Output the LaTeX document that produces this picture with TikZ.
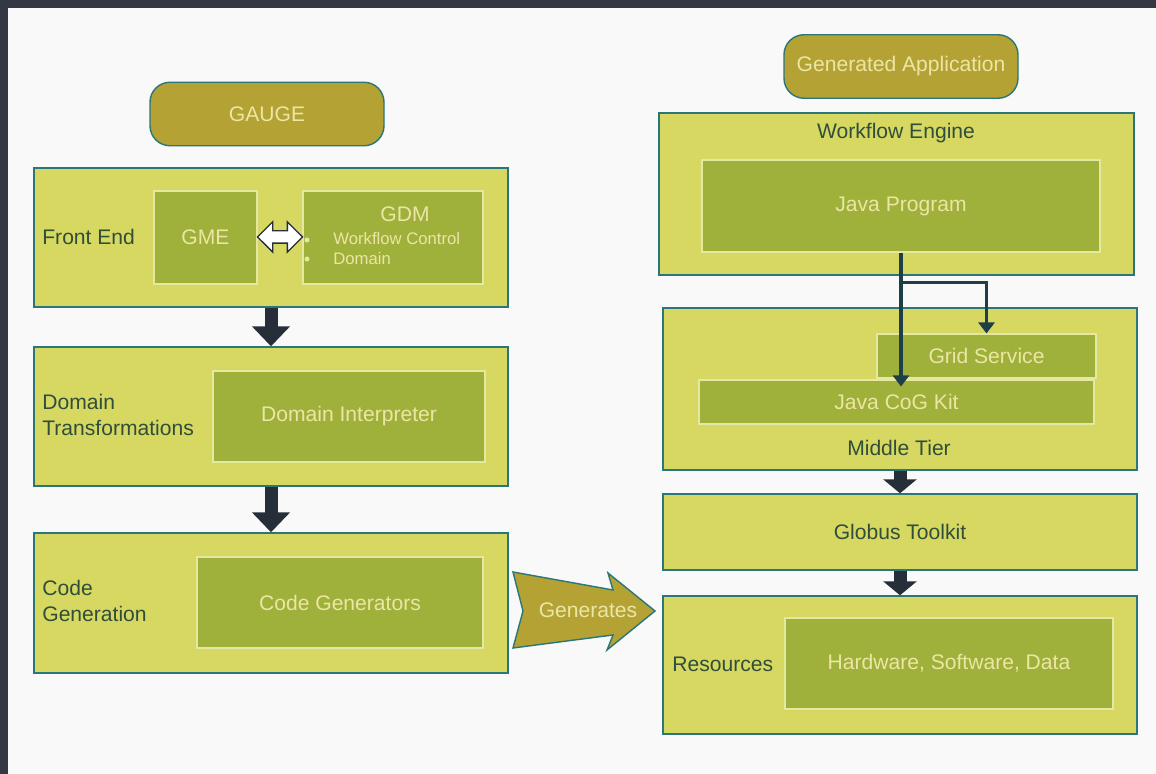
\documentclass[tikz,border=0pt]{standalone}
\usepackage{fontspec}
\setmainfont{Liberation Sans}
\usetikzlibrary{positioning,calc,arrows.meta,shapes.arrows}
\definecolor{paper}{RGB}{248,249,248}
\definecolor{framedark}{RGB}{52,56,68}
\definecolor{stagefill}{RGB}{214,216,98}
\definecolor{stageline}{RGB}{42,118,120}
\definecolor{partfill}{RGB}{159,177,59}
\definecolor{partline}{RGB}{228,232,160}
\definecolor{parttext}{RGB}{236,230,165}
\definecolor{tagfill}{RGB}{180,163,52}
\definecolor{captext}{RGB}{48,78,58}
\definecolor{flowdark}{RGB}{38,46,58}
\definecolor{wirecol}{RGB}{30,62,72}

\begin{document}
\begin{tikzpicture}[stage/.style={rectangle, draw=stageline, fill=stagefill, line width=0.8pt, minimum width=9.48cm, text=captext, font=\fontsize{12}{14.7}\selectfont},
  part/.style={rectangle, draw=partline, fill=partfill, line width=0.6pt, text=parttext, font=\fontsize{12}{14.7}\selectfont},
  tag/.style={rectangle, rounded corners=0.4cm, draw=stageline, fill=tagfill, line width=0.8pt, minimum width=4.68cm, minimum height=1.27cm, text=parttext, font=\fontsize{12}{14.7}\selectfont},
  caption/.style={text=captext, align=left, inner sep=0pt, font=\fontsize{12}{14.7}\selectfont},
  dot/.style={circle, fill=parttext, inner sep=0pt, minimum size=0.1cm},
  flow/.style={draw=flowdark, line width=0.26cm, -{Triangle[width=0.74cm,length=0.4cm]}},
  short/.style={-{Triangle[width=0.66cm,length=0.28cm]}},
  wire/.style={draw=wirecol, line width=2.2pt},
  >={Triangle[width=0.32cm,length=0.22cm]}]
  \useasboundingbox (0,0) rectangle (23.12,-15.48);
  \fill[paper] (0,0) rectangle (23.12,-15.48);
  \fill[framedark] (0,0) rectangle (23.12,-0.16);
  \fill[framedark] (0,0) rectangle (0.16,-15.48);

  % GAUGE side
  \node[tag] (gauge) at (5.34,-2.28) {GAUGE};
  \node[stage, minimum height=2.78cm] (front) at (5.42,-4.75) {};
  \node[caption, anchor=west] (frontcap) at (0.84,-4.74) {Front End};
  \node[part, minimum width=2.06cm, minimum height=1.86cm] (gme) at (4.11,-4.75) {GME};
  \node[part, minimum width=3.6cm, minimum height=1.86cm] (gdm) at (7.86,-4.75) {};
  \node[text=parttext, font=\fontsize{12}{14}\selectfont] (gdmname) at (8.1,-4.28) {GDM};
  \node[text=parttext, anchor=west, inner sep=0pt, font=\fontsize{9.5}{11}\selectfont] (gdmflow) at (6.66,-4.78) {Workflow Control};
  \node[text=parttext, anchor=west, inner sep=0pt, font=\fontsize{9.5}{11}\selectfont] (gdmdom) at (6.66,-5.18) {Domain};
  \node[dot] (dota) at (6.14,-4.8) {};
  \node[dot] (dotb) at (6.14,-5.18) {};
  \node[double arrow, draw=flowdark, fill=white, line width=0.8pt, inner sep=0.11cm, minimum height=0.9cm, double arrow head extend=0.18cm] (link) at (5.6,-4.74) {};

  \node[stage, minimum height=2.78cm] (trans) at (5.42,-8.33) {};
  \node[caption, anchor=west] (transcap) at (0.84,-8.3) {Domain\\Transformations};
  \node[part, minimum width=5.44cm, minimum height=1.82cm] (interp) at (6.98,-8.33) {Domain Interpreter};

  \node[stage, minimum height=2.8cm] (codegen) at (5.42,-12.06) {};
  \node[caption, anchor=west] (codecap) at (0.84,-12.02) {Code\\Generation};
  \node[part, minimum width=5.72cm, minimum height=1.82cm] (gens) at (6.8,-12.05) {Code Generators};

  \draw[flow] (front) -- (trans);
  \draw[flow] (trans) -- (codegen);

  % Generates arrow
  \draw[fill=tagfill, draw=stageline, line width=0.8pt] (10.26,-11.44) -- (12.26,-11.8) -- (12.16,-11.46) -- (13.1,-12.22)
    -- (12.14,-13.0) -- (12.26,-12.7) -- (10.26,-12.96) -- (10.46,-12.22) -- cycle;
  \node[text=parttext, font=\fontsize{12}{14}\selectfont] (generates) at (11.76,-12.2) {Generates};

  % application side
  \node[tag] (app) at (18.02,-1.33) {Generated Application};
  \node[stage, minimum width=9.5cm, minimum height=3.24cm] (engine) at (17.93,-3.88) {};
  \node[caption] (enginecap) at (17.92,-2.66) {Workflow Engine};
  \node[part, minimum width=7.96cm, minimum height=1.84cm] (java) at (18.02,-4.12) {Java Program};

  \node[stage, minimum height=3.24cm] (middle) at (18.0,-7.78) {};
  \node[part, minimum width=4.38cm, minimum height=0.88cm] (grid) at (19.73,-7.12) {Grid Service};
  \node[part, minimum width=7.9cm, minimum height=0.88cm] (cog) at (17.93,-8.04) {Java CoG Kit};
  \node[caption] (middlecap) at (17.98,-8.96) {Middle Tier};

  \node[stage, minimum height=1.52cm] (globus) at (18.0,-10.64) {Globus Toolkit};
  \node[stage, minimum height=2.76cm] (res) at (18.0,-13.3) {};
  \node[caption, anchor=west] (rescap) at (13.44,-13.28) {Resources};
  \node[part, minimum width=6.56cm, minimum height=1.82cm] (hw) at (18.98,-13.27) {Hardware, Software, Data};

  \coordinate (fork) at ([yshift=-0.6cm]java.south);
  \draw[wire, ->, shorten >=-0.14cm] (java.south) -- (java.south |- cog.north);
  \draw[wire, ->] (fork) -| (grid.north);
  \draw[flow, short] (middle) -- (globus);
  \draw[flow, short] (globus) -- (res);
\end{tikzpicture}
\end{document}
